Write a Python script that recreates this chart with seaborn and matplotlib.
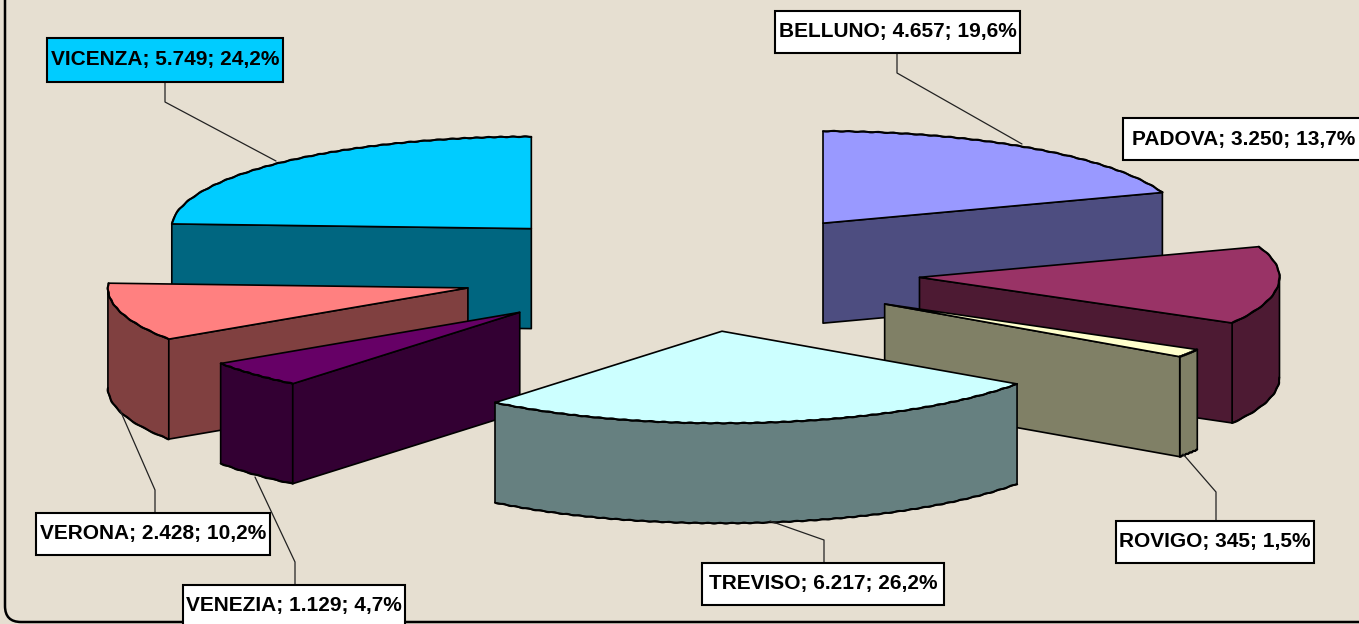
import numpy as np
import matplotlib
matplotlib.use("Agg")
import matplotlib.pyplot as plt
from matplotlib.patches import Polygon, Rectangle, FancyBboxPatch
import seaborn as sns

# ---- data ----
provinces = ["BELLUNO", "PADOVA", "ROVIGO", "TREVISO", "VENEZIA", "VERONA", "VICENZA"]
values = [4657, 3250, 345, 6217, 1129, 2428, 5749]
labels = ["BELLUNO; 4.657; 19,6%", "PADOVA; 3.250; 13,7%", "ROVIGO; 345; 1,5%",
          "TREVISO; 6.217; 26,2%", "VENEZIA; 1.129; 4,7%", "VERONA; 2.428; 10,2%",
          "VICENZA; 5.749; 24,2%"]
top_colors = ["#9999FF", "#993366", "#FFFFCC", "#CCFFFF", "#660066", "#FF8080", "#00CCFF"]
box_colors = ["white", "white", "white", "white", "white", "white", "#00CCFF"]

# ---- layout (pixels) ----
W, H = 1359, 624
RX, RY, DEPTH = 360, 92, 100
CX, CY = 690, 272
EXPLODE_X, EXPLODE_Y = 0.64, 0.65
boxes = [(775, 11, 1020, 53), (1123, 118, 1364, 160), (1116, 521, 1314, 563),
         (702, 563, 944, 605), (183, 585, 405, 630), (36, 513, 270, 555), (47, 38, 283, 82)]
leaders = [[(897, 53), (897, 73), (1022, 144)], None,
           [(1216, 521), (1216, 492), (1183, 454)],
           [(824, 563), (824, 540), (770, 521)],
           [(295, 585), (295, 562), (255, 477)],
           [(155, 513), (155, 490), (120, 410)],
           [(165, 82), (165, 102), (276, 161)]]

sns.set_theme(style="white")
plt.rcParams["font.family"] = ["Liberation Sans", "DejaVu Sans"]
fig = plt.figure(figsize=(W / 100, H / 100), dpi=100, facecolor="#E6DFD1")
ax = fig.add_axes([0, 0, 1, 1])
ax.set_xlim(0, W)
ax.set_ylim(H, 0)
ax.axis("off")

ax.add_patch(FancyBboxPatch((5, -40), W + 40, 662, boxstyle="round,pad=0,rounding_size=16",
                            fc="#E6DFD1", ec="black", lw=1.8, zorder=0))


def pt(cx, cy, deg, dy=0):
    t = np.radians(deg)
    return cx + RX * np.sin(t), cy - RY * np.cos(t) + dy


def darker(c):
    return tuple(v * 0.5 for v in matplotlib.colors.to_rgb(c))


def jagged(points, zorder):
    xs, ys = zip(*points)
    line, = ax.plot(xs, ys, color="black", lw=1.4, zorder=zorder)
    line.set_sketch_params(scale=0.45, length=12, randomness=1)


palette = sns.color_palette(top_colors)
edges = np.concatenate([[0], np.cumsum(values)]) / np.sum(values) * 360
slices = []
for i in range(len(values)):
    a, b = edges[i], edges[i + 1]
    mid = np.radians((a + b) / 2)
    cx = CX + EXPLODE_X * RX * np.sin(mid)
    cy = CY - EXPLODE_Y * RY * np.cos(mid)
    slices.append((cy, cx, a, b, i))

style = dict(ec="black", lw=1.2, joinstyle="round")
z = 1
for cy, cx, a, b, i in sorted(slices):
    side = darker(palette[i])
    top = palette[i]
    # outer rim, only the part facing the viewer
    lo, hi = max(a, 90), min(b, 270)
    if hi > lo:
        th = np.linspace(lo, hi, 60)
        upper = [pt(cx, cy, d) for d in th]
        lower = [pt(cx, cy, d, DEPTH) for d in th[::-1]]
        ax.add_patch(Polygon(upper + lower, fc=side, zorder=z, **style))
        jagged(lower, z + 0.1)
    # radial cut faces
    for deg, seen in ((a, 180 <= a < 360), (b, 0 < b <= 180)):
        if seen:
            ax.add_patch(Polygon([(cx, cy), pt(cx, cy, deg), pt(cx, cy, deg, DEPTH), (cx, cy + DEPTH)],
                                 fc=side, zorder=z + 0.2, **style))
    # top face
    th = np.linspace(a, b, 90)
    arc = [pt(cx, cy, d) for d in th]
    ax.add_patch(Polygon([(cx, cy)] + arc, fc=top, zorder=z + 0.5, **style))
    jagged(arc, z + 0.6)
    z += 1

for pts in leaders:
    if pts:
        xs, ys = zip(*pts)
        ax.plot(xs, ys, color="#222222", lw=0.9, zorder=50)

for (x0, y0, x1, y1), txt, fc in zip(boxes, labels, box_colors):
    ax.add_patch(Rectangle((x0, y0), x1 - x0, y1 - y0, fc=fc, ec="black", lw=1.5, zorder=60))
    ax.text((x0 + x1) / 2, y0 + 21, txt, ha="center", va="center", fontsize=15,
            fontweight="bold", color="black", zorder=61)

fig.savefig("out.png", dpi=100, facecolor=fig.get_facecolor())
